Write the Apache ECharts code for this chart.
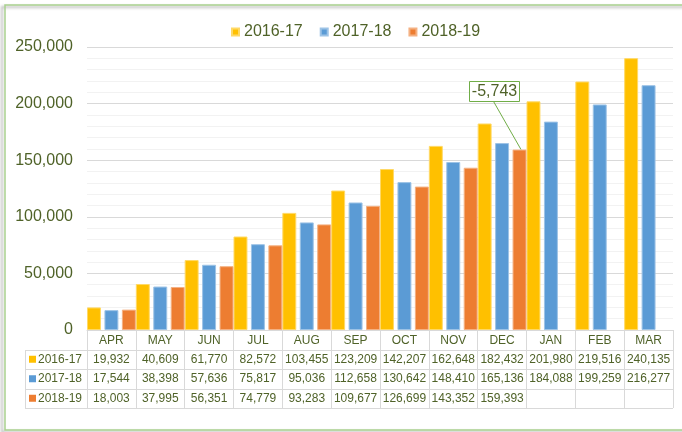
<!DOCTYPE html>
<html>
<head>
<meta charset="utf-8">
<script src="https://cdn.jsdelivr.net/npm/echarts@6/dist/echarts.min.js"></script>
<style>
html, body { margin: 0; padding: 0; background: #fff; }
#main { width: 682px; height: 432px; }
</style>
</head>
<body>
<div id="main"></div>
<script>
var months = ['APR', 'MAY', 'JUN', 'JUL', 'AUG', 'SEP', 'OCT', 'NOV', 'DEC', 'JAN', 'FEB', 'MAR'];
var fy1617 = [19932, 40609, 61770, 82572, 103455, 123209, 142207, 162648, 182432, 201980, 219516, 240135];
var fy1718 = [17544, 38398, 57636, 75817, 95036, 112658, 130642, 148410, 165136, 184088, 199259, 216277];
var fy1819 = [18003, 37995, 56351, 74779, 93283, 109677, 126699, 143352, 159393, null, null, null];
var seriesNames = ['2016-17', '2017-18', '2018-19'];

var colors = ['#FFC000', '#5B9BD5', '#ED7D31'];
var edgeColors = ['#FFD966', '#9DC3E6', '#F4B183'];
var textColor = '#4F6228';
var lineGrey = '#D9D9D9';
var font = 'Liberation Sans, Arial, sans-serif';

var allSeries = [fy1617, fy1718, fy1819];

function fmt(v) {
	return v == null ? '' : v.toLocaleString('en-US');
}

var myChart = echarts.init(document.getElementById('main'));

var option = {
	animation: false,
	backgroundColor: '#fff',
	textStyle: { fontFamily: font },
	color: colors,
	legend: {
		left: 226,
		top: 19,
		itemWidth: 7,
		itemHeight: 7,
		itemGap: 17,
		icon: 'rect',
		textStyle: { fontSize: 16, color: textColor, fontFamily: font },
		data: seriesNames
	},
	grid: {
		left: 87,
		right: 9,
		top: 47,
		bottom: 102
	},
	xAxis: {
		type: 'category',
		data: months,
		axisLine: { lineStyle: { color: lineGrey } },
		axisTick: { show: true, length: 78, lineStyle: { color: lineGrey } },
		axisLabel: { interval: 0, fontSize: 12, color: textColor, margin: 5, fontFamily: font }
	},
	yAxis: {
		type: 'value',
		min: 0,
		max: 250000,
		interval: 50000,
		axisLine: { show: false },
		axisTick: { show: false },
		axisLabel: {
			fontSize: 16,
			color: textColor,
			margin: 14,
			fontFamily: font,
			formatter: function (v) { return fmt(v); }
		},
		splitLine: { lineStyle: { color: lineGrey } },
		minorTick: { show: false, splitNumber: 5 },
		minorSplitLine: { show: true, lineStyle: { color: '#F2F2F2' } }
	},
	series: seriesNames.map(function (name, i) {
		return {
			name: name,
			type: 'bar',
			data: allSeries[i],
			barGap: '25%',
			barCategoryGap: '0%',
			itemStyle: { color: colors[i], borderColor: edgeColors[i], borderWidth: 1 }
		};
	})
};

myChart.setOption(option);

// data table under the axis + annotation
var c0 = myChart.convertToPixel({ xAxisIndex: 0 }, months[0]);
var c1 = myChart.convertToPixel({ xAxisIndex: 0 }, months[1]);
var band = c1 - c0;
var left = c0 - band / 2;
var right = left + band * months.length;
var y0 = myChart.convertToPixel({ yAxisIndex: 0 }, 0);
var rowH = 19.5;
var keyLeft = 25;

var g = [];

// frame
g.push({
	type: 'rect',
	silent: true,
	z: -10,
	shape: { x: 5, y: 5, width: 700, height: 425 },
	style: {
		fill: null,
		stroke: '#A9D18E',
		lineWidth: 1.5,
		shadowBlur: 3,
		shadowOffsetX: -3,
		shadowOffsetY: 2,
		shadowColor: 'rgba(0,0,0,0.35)'
	}
});

for (var r = 1; r <= 4; r++) {
	var yy = Math.round(y0 + r * rowH) + 0.5;
	g.push({
		type: 'line', silent: true,
		shape: { x1: keyLeft, y1: yy, x2: right, y2: yy },
		style: { stroke: lineGrey, lineWidth: 1 }
	});
}
g.push({
	type: 'line', silent: true,
	shape: { x1: keyLeft + 0.5, y1: Math.round(y0 + rowH) + 0.5, x2: keyLeft + 0.5, y2: Math.round(y0 + 4 * rowH) + 0.5 },
	style: { stroke: lineGrey, lineWidth: 1 }
});

allSeries.forEach(function (vals, i) {
	var cy = y0 + (i + 1.5) * rowH;
	g.push({
		type: 'rect', silent: true,
		shape: { x: keyLeft + 4, y: cy - 3.5, width: 7, height: 7 },
		style: { fill: colors[i] }
	});
	g.push({
		type: 'text', silent: true,
		x: keyLeft + 13, y: cy,
		style: { text: seriesNames[i], fontSize: 12, fontFamily: font, fill: textColor, verticalAlign: 'middle', align: 'left' }
	});
	vals.forEach(function (v, j) {
		if (v == null) return;
		g.push({
			type: 'text', silent: true,
			x: left + (j + 0.5) * band, y: cy,
			style: { text: fmt(v), fontSize: 12, fontFamily: font, fill: textColor, verticalAlign: 'middle', align: 'center' }
		});
	});
});

// difference callout on the last 2018-19 bar
var lastIdx = 8;
var diff = fy1819[lastIdx] - fy1718[lastIdx];
var layout = myChart.getModel().getSeriesByIndex(2).getData().getItemLayout(lastIdx);
var bx = layout.x + layout.width / 2;
var by = layout.y + layout.height;
var boxX = bx - 50.5, boxY = by - 69;
g.push({
	type: 'line', silent: true,
	shape: { x1: boxX + 24, y1: boxY + 20, x2: bx + 1.5, y2: by },
	style: { stroke: '#70AD47', lineWidth: 1 }
});
g.push({
	type: 'rect', silent: true,
	shape: { x: Math.round(boxX) + 0.5, y: Math.round(boxY) + 0.5, width: 50, height: 20 },
	style: { fill: '#fff', stroke: '#70AD47', lineWidth: 1 }
});
g.push({
	type: 'text', silent: true,
	x: Math.round(boxX) + 25.5, y: Math.round(boxY) + 10.5,
	style: { text: fmt(diff), fontSize: 16, fontFamily: font, fill: textColor, verticalAlign: 'middle', align: 'center' }
});

myChart.setOption({ graphic: g });
</script>
</body>
</html>
